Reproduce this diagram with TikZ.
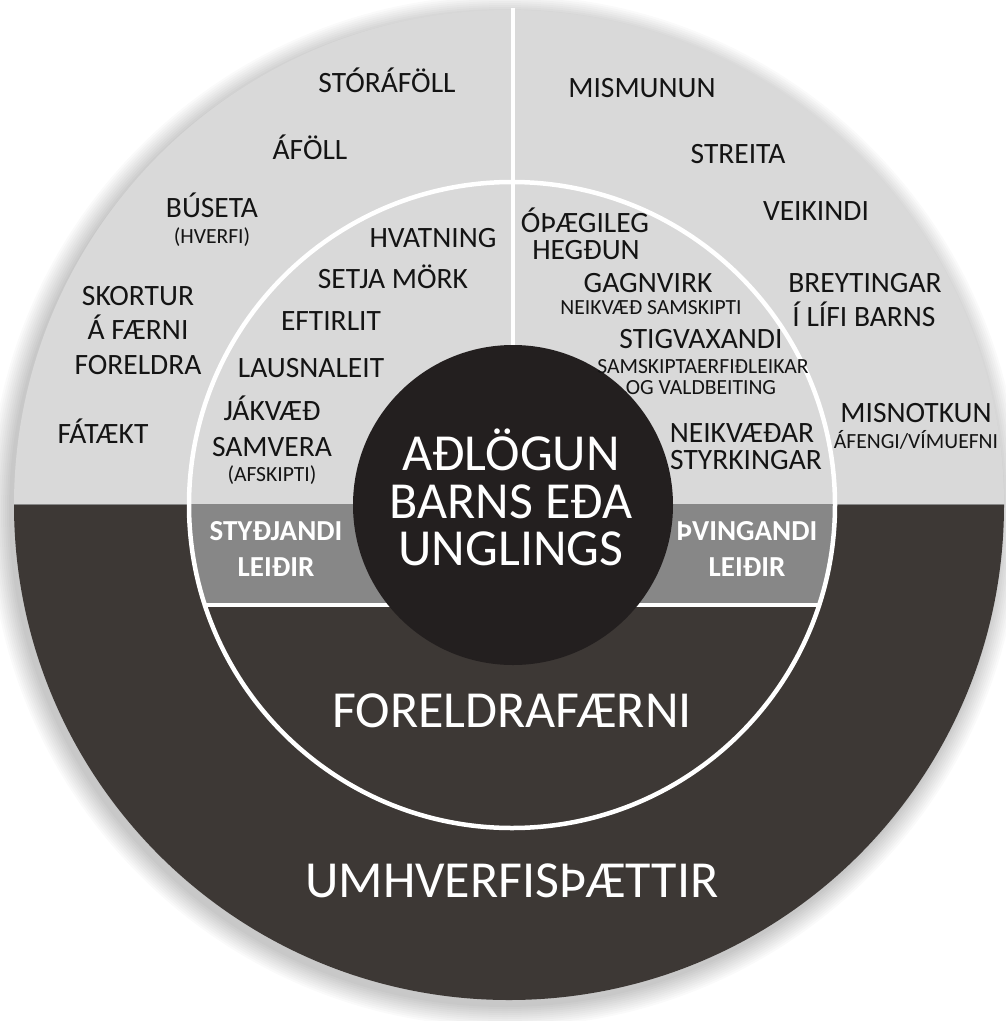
\documentclass[tikz,border=0pt]{standalone}
\usepackage{fontspec}
\setmainfont{Carlito}
\definecolor{lightg}{HTML}{D9D9D9}
\definecolor{darkg}{HTML}{3D3835}
\definecolor{coreg}{HTML}{231F1F}
\definecolor{bandg}{HTML}{878787}
\definecolor{txt}{HTML}{141414}
\begin{document}
\begin{tikzpicture}[x=1pt,y=-1pt,
  lbl/.style={font=\fontsize{29.5}{32}\selectfont, text=txt, anchor=base, inner sep=0pt},
  sm/.style={font=\fontsize{21.6}{24}\selectfont, text=txt, anchor=base, inner sep=0pt},
  bw/.style={font=\fontsize{29}{32}\selectfont\bfseries, text=white, anchor=base, inner sep=0pt},
  big/.style={font=\fontsize{52}{56}\selectfont, text=white, anchor=base, inner sep=0pt}]
\useasboundingbox (0,0) rectangle (1006,1021);
\fill[white] (0,0) rectangle (1006,1021);
% soft shadow
\foreach \r in {496,498,...,516}
  \fill[black, opacity=0.02] (505,511) circle[radius=\r pt];
% outer disk
\begin{scope}
  \clip (509,505) circle[radius=495pt];
  \fill[lightg] (0,0) rectangle (1006,505);
  \fill[darkg] (0,505) rectangle (1006,1021);
  \draw[bandg, line width=1.5pt] (0,504.5) -- (1006,504.5);
\end{scope}
% inner disk band
\begin{scope}
  \clip (512,505) circle[radius=323pt];
  \fill[bandg] (0,505) rectangle (1006,603);
  \draw[white, line width=4pt] (0,605) -- (1006,605);
\end{scope}
\draw[white, line width=4.5pt] (512,505) circle[radius=323pt];
\draw[white, line width=4.5pt] (513,8) -- (513,360);
% centre
\fill[coreg] (513,505) circle[radius=160pt];

% left outer
\node[lbl] (t1) at (387,92) {STÓRÁFÖLL};
\node[lbl] (t2) at (310,159) {ÁFÖLL};
\node[lbl] (t3) at (212,217) {BÚSETA};
\node[sm]  (t3b) at (212,243) {(HVERFI)};
\node[lbl] (t4a) at (138,305) {SKORTUR};
\node[lbl] (t4b) at (138,339) {Á FÆRNI};
\node[lbl] (t4c) at (138,374) {FORELDRA};
\node[lbl] (t5) at (103,443) {FÁTÆKT};
% left inner
\node[lbl] (i1) at (433,247) {HVATNING};
\node[lbl] (i2) at (393,288) {SETJA MÖRK};
\node[lbl] (i3) at (331,330) {EFTIRLIT};
\node[lbl] (i4) at (311,377) {LAUSNALEIT};
\node[lbl] (i5a) at (272,420) {JÁKVÆÐ};
\node[lbl] (i5b) at (272,456) {SAMVERA};
\node[sm]  (i5c) at (272,481) {(AFSKIPTI)};
\node[bw] (s1) at (276,540) {STYÐJANDI};
\node[bw] (s2) at (276,576) {LEIÐIR};
% right inner
\node[lbl] (r1a) at (585,232) {ÓÞÆGILEG};
\node[lbl] (r1b) at (586,259) {HEGÐUN};
\node[lbl] (r2a) at (648,292) {GAGNVIRK};
\node[sm]  (r2b) at (651,314) {NEIKVÆÐ SAMSKIPTI};
\node[lbl] (r3a) at (701,348) {STIGVAXANDI};
\node[sm]  (r3b) at (703,373) {SAMSKIPTAERFIÐLEIKAR};
\node[sm]  (r3c) at (701,394) {OG VALDBEITING};
\node[lbl] (r4a) at (742,442) {NEIKVÆÐAR};
\node[lbl] (r4b) at (746,469) {STYRKINGAR};
\node[bw] (p1) at (747,540) {ÞVINGANDI};
\node[bw] (p2) at (747,576) {LEIÐIR};
% right outer
\node[lbl] (o1) at (642,97) {MISMUNUN};
\node[lbl] (o2) at (738,163) {STREITA};
\node[lbl] (o3) at (816,220) {VEIKINDI};
\node[lbl] (o4a) at (865,292) {BREYTINGAR};
\node[lbl] (o4b) at (864,326) {Í LÍFI BARNS};
\node[lbl] (o5a) at (916,422) {MISNOTKUN};
\node[sm]  (o5b) at (916,448) {ÁFENGI/VÍMUEFNI};
% centre and bottom
\node[big] (c1) at (511,470) {AÐLÖGUN};
\node[big] (c2) at (511,518) {BARNS EÐA};
\node[big] (c3) at (511,565) {UNGLINGS};
\node[big] (f1) at (512,727) {FORELDRAFÆRNI};
\node[big] (u1) at (512,897) {UMHVERFISÞÆTTIR};
\end{tikzpicture}
\end{document}
